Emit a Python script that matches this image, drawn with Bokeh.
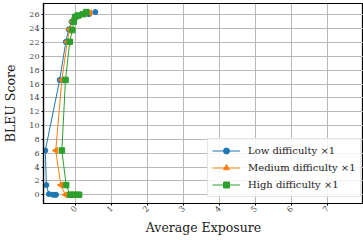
import numpy as np
from bokeh.plotting import figure
from bokeh.models import Legend, LegendItem, FixedTicker, Range1d
from bokeh.embed import file_html
from bokeh.resources import INLINE

low_x = [-0.55, -0.58, -0.64, -0.75, -0.82, -0.85, -0.45, -0.28, -0.20, -0.12, -0.03, 0.10, 0.36, 0.54]
low_y = [0.0, 0.0, 0.0, 0.1, 1.4, 6.4, 16.6, 22.1, 23.9, 25.0, 25.6, 25.9, 26.1, 26.4]
med_x = [-0.12, -0.18, -0.29, -0.42, -0.56, -0.39, -0.24, -0.18, -0.10, -0.03, 0.08, 0.25, 0.39]
med_y = [0.0, 0.0, 0.0, 1.4, 6.4, 16.6, 22.1, 23.9, 25.0, 25.6, 25.9, 26.2, 26.3]
high_x = [0.09, 0.03, -0.07, -0.16, -0.27, -0.39, -0.29, -0.17, -0.10, -0.06, -0.02, 0.05, 0.20, 0.29]
high_y = [0.0, 0.0, 0.0, 0.0, 1.4, 6.4, 16.6, 22.1, 23.8, 25.0, 25.7, 25.9, 26.1, 26.4]

series_labels = ["Low difficulty \u00d71", "Medium difficulty \u00d71", "High difficulty \u00d71"]
x_ticks = [0, 1, 2, 3, 4, 5, 6, 7, 8]
y_ticks = list(range(0, 27, 2))

FONT = "DejaVu Serif"

p = figure(width=363, height=240, output_backend="svg", toolbar_location=None,
           x_range=Range1d(-0.90, 7.99), y_range=Range1d(-1.26, 27.64),
           min_border_left=43, min_border_right=0, min_border_top=3, min_border_bottom=37)

p.outline_line_color = "black"
p.outline_line_width = 1.2

for ax in (p.xaxis[0], p.yaxis[0]):
    ax.axis_line_color = "black"
    ax.axis_line_width = 1.2
    ax.major_tick_in = 0
    ax.major_tick_out = 2
    ax.minor_tick_in = 0
    ax.minor_tick_out = 0
    ax.major_label_text_font = FONT
    ax.major_label_text_font_size = "8px"
    ax.major_label_text_color = "#444444"
    ax.axis_label_text_font = FONT
    ax.axis_label_text_font_size = "12.5px"
    ax.axis_label_text_font_style = "normal"
    ax.axis_label_text_color = "#222222"

p.xaxis.ticker = FixedTicker(ticks=x_ticks)
p.yaxis.ticker = FixedTicker(ticks=y_ticks)
p.xaxis.major_label_orientation = np.pi / 4
p.xaxis.axis_label = "Average Exposure"
p.yaxis.axis_label = "BLEU Score"
p.yaxis.major_label_standoff = 2
p.xaxis.major_label_standoff = 2
p.yaxis.axis_label_standoff = 8
p.xaxis.axis_label_standoff = 2

p.xgrid.grid_line_color = "#b8b8b8"
p.ygrid.grid_line_color = "#b8b8b8"
p.xgrid.grid_line_width = 1
p.ygrid.grid_line_width = 1

colors = ["#1f77b4", "#ff7f0e", "#2ca02c"]
xs = [low_x, med_x, high_x]
ys = [low_y, med_y, high_y]
markers = ["circle", "triangle", "square"]
angles = [0, np.pi / 2, 0]
sizes = [5, 6, 5.5]

items = []
for xv, yv, c, m, a, s, lab in zip(xs, ys, colors, markers, angles, sizes, series_labels):
    r1 = p.line(xv, yv, line_color=c, line_width=1)
    r2 = p.scatter(xv, yv, marker=m, angle=a, size=s, fill_color=c, line_color=c)
    items.append(LegendItem(label=lab, renderers=[r1, r2]))

legend = Legend(items=items, location=(164, 6), orientation="vertical")
legend.label_text_font = FONT
legend.label_text_font_size = "10px"
legend.label_text_color = "#222222"
legend.glyph_width = 28
legend.glyph_height = 15
legend.label_standoff = 8
legend.spacing = 2
legend.padding = 4
legend.margin = 0
legend.border_line_color = "#cccccc"
legend.border_line_width = 1
legend.background_fill_alpha = 0.85
p.add_layout(legend, "center")

open("out.html", "w").write(file_html(p, INLINE))
